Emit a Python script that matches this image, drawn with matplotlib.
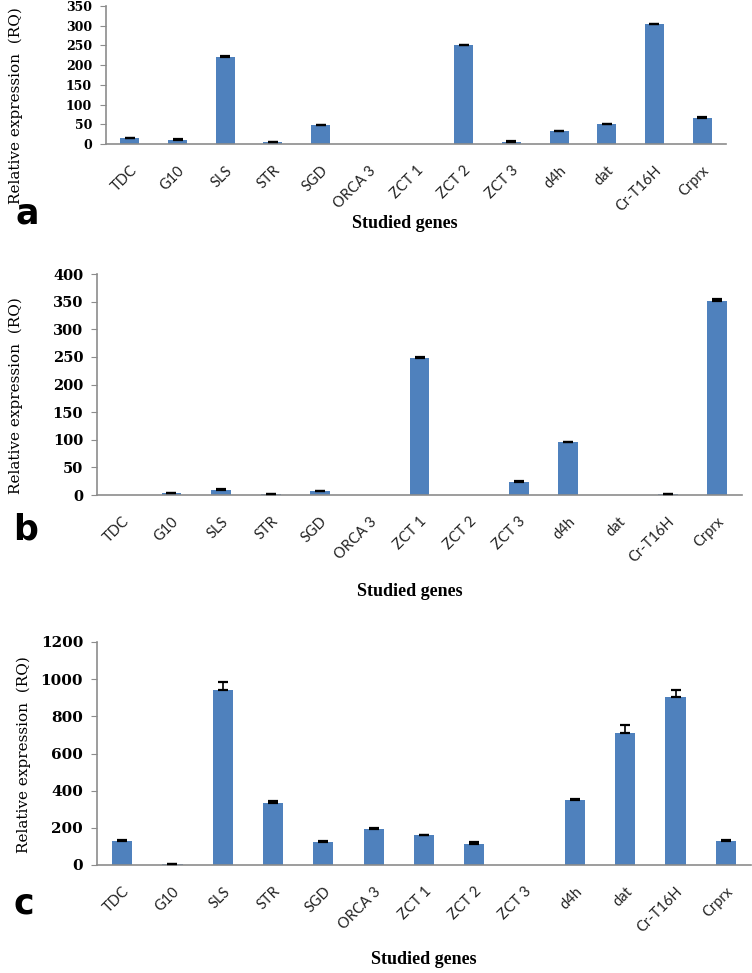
import numpy as np
import matplotlib.pyplot as plt

genes = ['TDC', 'G10', 'SLS', 'STR', 'SGD', 'ORCA 3', 'ZCT 1', 'ZCT 2',
         'ZCT 3', 'd4h', 'dat', 'Cr-T16H', 'Crprx']

# panel a
rq_a = [15, 11, 220, 4, 47, 0, 0, 251, 6, 33, 50, 304, 66]
err_a = [1, 1, 2, 0.5, 1, 0, 0, 1, 1, 1, 1.5, 1.5, 1.5]
# panel b
rq_b = [0, 4, 9, 1, 7, 0, 248, 0, 24, 96, 0, 2, 352]
err_b = [0, 0.5, 1, 0.5, 1, 0, 1.5, 0, 0.5, 0.5, 0, 0.5, 2]
# panel c
rq_c = [131, 3, 942, 333, 125, 196, 159, 111, 0, 352, 711, 902, 131]
err_c = [5, 2, 41, 12, 3, 5, 3, 12, 0, 3, 40, 42, 3]

yticks_a = [0, 50, 100, 150, 200, 250, 300, 350]
yticks_b = [0, 50, 100, 150, 200, 250, 300, 350, 400]
yticks_c = [0, 200, 400, 600, 800, 1000, 1200]

BLUE = '#4F81BD'
GRAY = '#8c8c8c'

W, H = 752.0, 973.0


def make_panel(fig, box, vals, errs, yticks, ytick_size, letter, letter_xy,
               xlab_y, ylab_xy):
    left, top, right, bottom = box
    ax = fig.add_axes([left / W, 1 - bottom / H, (right - left) / W, (bottom - top) / H])
    x = np.arange(len(genes))
    vals = np.array(vals, dtype=float)
    errs = np.array(errs, dtype=float)
    ax.bar(x, vals, width=0.4, color=BLUE, zorder=2)
    # only bars that were measured get an error bar (drawn upwards)
    m = errs > 0
    ax.errorbar(x[m], vals[m], yerr=[np.zeros(m.sum()), errs[m]], fmt='none',
                ecolor='black', elinewidth=1.2, capsize=3.5, capthick=1.6, zorder=3)
    ax.set_xlim(-0.5, len(genes) - 0.5)
    ax.set_ylim(0, yticks[-1])
    ax.set_yticks(yticks)
    ax.set_yticklabels([str(t) for t in yticks], family='DejaVu Serif',
                       fontweight='bold', fontsize=ytick_size)
    ax.set_xticks(x)
    ax.set_xticklabels(genes, rotation=45, ha='right', rotation_mode='anchor',
                       family='Lato', fontsize=10.5, color='#222222')
    ax.tick_params(axis='x', length=0, pad=14)
    ax.tick_params(axis='y', length=4, color=GRAY, direction='out', pad=6)
    for s in ['top', 'right']:
        ax.spines[s].set_visible(False)
    for s in ['left', 'bottom']:
        ax.spines[s].set_color(GRAY)
        ax.spines[s].set_linewidth(1.2)
    fig.text(letter_xy[0] / W, 1 - letter_xy[1] / H, letter, family='DejaVu Sans',
             fontweight='bold', fontsize=25, ha='center', va='center')
    fig.text(xlab_y[0] / W, 1 - xlab_y[1] / H, 'Studied genes', family='Liberation Serif',
             fontweight='bold', fontsize=13, ha='center', va='center')
    fig.text(ylab_xy[0] / W, 1 - ylab_xy[1] / H, 'Relative expression  (RQ)',
             family='DejaVu Serif', fontsize=11, rotation=90, ha='center', va='center')
    return ax


fig = plt.figure(figsize=(7.52, 9.73), dpi=100)

make_panel(fig, (106, 6, 726, 144), rq_a, err_a, yticks_a, 9, 'a', (27, 214),
           (405, 224), (16, 106))
make_panel(fig, (97, 274, 742, 495), rq_b, err_b, yticks_b, 10.5, 'b', (26, 530),
           (410, 592), (16, 396))
make_panel(fig, (97, 642, 751, 865), rq_c, err_c, yticks_c, 11, 'c', (24, 903),
           (424, 960), (24, 755))

fig.savefig('out.png', dpi=100)
